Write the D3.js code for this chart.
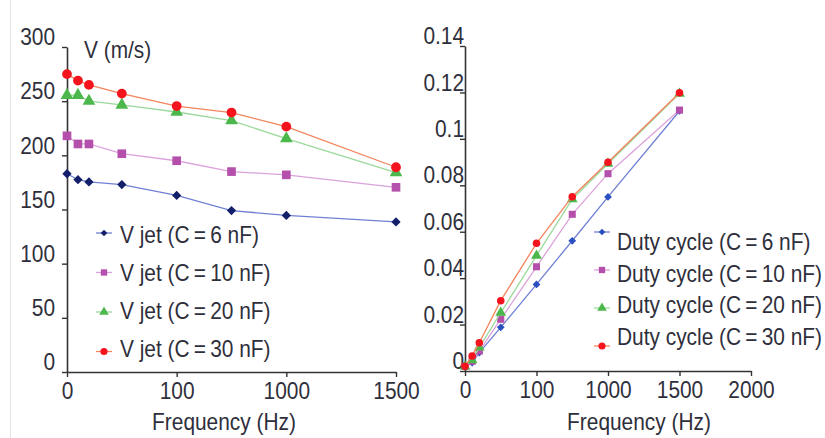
<!DOCTYPE html>
<html>
<head>
<meta charset="utf-8">
<script src="https://cdn.jsdelivr.net/npm/d3@7"></script>
<style>
  html, body { margin: 0; padding: 0; background: #fff; }
  svg { display: block; }
  text { font-family: 'Liberation Sans', Arial, sans-serif; fill: #2f2f3c; }
</style>
</head>
<body>
<svg id="chart" width="825" height="438"></svg>
<script>
// ---- data ----
const xPositions = [0, 10, 20, 50, 100, 150, 200, 300];   // axis positions of the frequency points
const leftTickValues = [0, 100, 200, 300];
const leftTickLabels = ["0", "100", "1000", "1500"];
const rightTickValues = [0, 100, 200, 300, 400];
const rightTickLabels = ["0", "100", "1000", "1500", "2000"];

const vjet6  = [183, 177.5, 175.5, 173, 163, 149, 144.5, 138.5];
const vjet10 = [218, 210.5, 210.5, 201.5, 195, 185, 182, 170.5];
const vjet20 = [255.5, 255.5, 250, 246.5, 240, 232, 215.5, 184];
const vjet30 = [275, 269, 265, 257, 245.5, 239.5, 226.5, 189];

const duty6  = [0.002, 0.0036, 0.0079, 0.0188, 0.0373, 0.0561, 0.075, 0.112];
const duty10 = [0.002, 0.0042, 0.0086, 0.0223, 0.0449, 0.0675, 0.085, 0.1124];
const duty20 = [0.002, 0.0047, 0.0102, 0.0251, 0.0497, 0.074, 0.0893, 0.1195];
const duty30 = [0.002, 0.0065, 0.0122, 0.0303, 0.055, 0.0751, 0.0899, 0.1199];

const leftNames  = ["V jet (C\u2009=\u20096 nF)", "V jet (C\u2009=\u200910 nF)", "V jet (C\u2009=\u200920 nF)", "V jet (C\u2009=\u200930 nF)"];
const rightNames = ["Duty cycle (C\u2009=\u20096 nF)", "Duty cycle (C\u2009=\u200910 nF)", "Duty cycle (C\u2009=\u200920 nF)", "Duty cycle (C\u2009=\u200930 nF)"];

// ---- styles ----
const diamond = d3.symbolDiamond2 || d3.symbolDiamond;
const styles = [
  { line: "#6f80d4", markerL: "#141f6b", markerR: "#2a4fbf", shape: diamond },
  { line: "#dca2dc", markerL: "#b44fab", markerR: "#b44fab", shape: d3.symbolSquare },
  { line: "#9bd99b", markerL: "#4cb84c", markerR: "#4cb84c", shape: d3.symbolTriangle },
  { line: "#f3845c", markerL: "#f5141e", markerR: "#f5141e", shape: d3.symbolCircle }
];

const svg = d3.select("#chart");
const FS = 24;      // font size
const K = 0.87;     // horizontal condensing of the text

function squeeze(sel) {
  sel.each(function () {
    const t = d3.select(this);
    const x = +t.attr("x") || 0;
    t.attr("x", x / K).attr("transform", `scale(${K},1)`);
  });
  return sel;
}
function addText(parent, x, y, str, anchor) {
  const g = parent.append("g").attr("transform", `translate(${x},${y})`);
  const t = g.append("text").attr("text-anchor", anchor || "start")
    .attr("transform", `scale(${K},1)`).style("font-size", FS + "px").text(str);
  return t;
}

// faint page frame line
svg.append("line").attr("x1", 10.5).attr("x2", 10.5).attr("y1", 0).attr("y2", 438)
  .attr("stroke", "#e2e2e2").attr("stroke-width", 1);

function drawPanel(opts) {
  const g = svg.append("g");
  const x = d3.scaleLinear().domain(opts.xDomain).range(opts.xRange);
  const y = d3.scaleLinear().domain(opts.yDomain).range(opts.yRange);

  // y axis
  const ya = g.append("g").attr("transform", `translate(${opts.xRange[0]},0)`)
    .call(d3.axisLeft(y).tickValues(opts.yTicks).tickFormat(opts.yFormat).tickSize(5).tickSizeOuter(0));
  ya.select(".domain").attr("stroke", "#333").attr("stroke-width", 1.6);
  ya.selectAll(".tick line").attr("stroke", "#333").attr("stroke-width", 1.4);
  squeeze(ya.selectAll(".tick text").attr("x", opts.yLabelX).attr("y", -10)
    .style("font-size", FS + "px").attr("fill", "#2f2f3c"));

  // x axis
  const xa = g.append("g").attr("transform", `translate(0,${opts.yRange[0]})`)
    .call(d3.axisBottom(x).tickValues(opts.xTicks)
      .tickFormat((d, i) => opts.xLabels[i]).tickSize(5).tickPadding(5).tickSizeOuter(0));
  xa.select(".domain").attr("stroke", "#333").attr("stroke-width", 1.6);
  xa.selectAll(".tick line").attr("stroke", "#333").attr("stroke-width", 1.4);
  squeeze(xa.selectAll(".tick text").style("font-size", FS + "px").attr("fill", "#2f2f3c"));

  // series
  opts.series.forEach((vals, si) => {
    const st = styles[si];
    const pts = vals.map((v, i) => [x(xPositions[i]), y(v)]);
    g.append("path").attr("d", d3.line()(pts)).attr("fill", "none")
      .attr("stroke", st.line).attr("stroke-width", 1.3);
    g.selectAll(null).data(pts).enter().append("path")
      .attr("transform", d => `translate(${d[0]},${d[1]})`)
      .attr("d", d3.symbol().type(st.shape).size(opts.markerSize[si]))
      .attr("fill", opts.right ? st.markerR : st.markerL);
  });

  // legend
  opts.names.forEach((name, i) => {
    const st = styles[i];
    const my = opts.leg.markerY0 + i * opts.leg.markerStep;
    g.append("line").attr("x1", opts.leg.mx - 8).attr("x2", opts.leg.mx + 8)
      .attr("y1", my).attr("y2", my).attr("stroke", st.line).attr("stroke-width", 1.3);
    g.append("path").attr("transform", `translate(${opts.leg.mx},${my})`)
      .attr("d", d3.symbol().type(st.shape).size(opts.leg.size[i]))
      .attr("fill", opts.right ? st.markerR : st.markerL);
    addText(g, opts.leg.tx, opts.leg.textY0 + i * opts.leg.textStep, name);
  });

  // x title
  addText(g, opts.xTitleX, 430, "Frequency (Hz)", "middle");
  return g;
}

drawPanel({
  xDomain: [0, 300], xRange: [67, 396],
  yDomain: [0, 300], yRange: [372, 47],
  yTicks: [0, 50, 100, 150, 200, 250, 300], yFormat: d => String(d), yLabelX: -12,
  xTicks: leftTickValues, xLabels: leftTickLabels,
  series: [vjet6, vjet10, vjet20, vjet30],
  markerSize: [55, 75, 70, 75],
  names: leftNames,
  leg: { mx: 104, tx: 120, markerY0: 233, markerStep: 39.5, textY0: 243, textStep: 38, size: [28, 40, 40, 40] },
  xTitleX: 224,
  right: false
});

addText(svg, 84, 58, "V (m/s)");

drawPanel({
  xDomain: [0, 400], xRange: [465, 751],
  yDomain: [0, 0.14], yRange: [371, 46],
  yTicks: [0, 0.02, 0.04, 0.06, 0.08, 0.1, 0.12, 0.14],
  yFormat: d => d === 0 ? "0" : String(+d.toFixed(2)), yLabelX: -1,
  xTicks: rightTickValues, xLabels: rightTickLabels,
  series: [duty6, duty10, duty20, duty30],
  markerSize: [38, 50, 50, 45],
  names: rightNames,
  leg: { mx: 602, tx: 617, markerY0: 232, markerStep: 38, textY0: 250, textStep: 31.7, size: [28, 40, 40, 40] },
  xTitleX: 639,
  right: true
});
</script>
</body>
</html>
